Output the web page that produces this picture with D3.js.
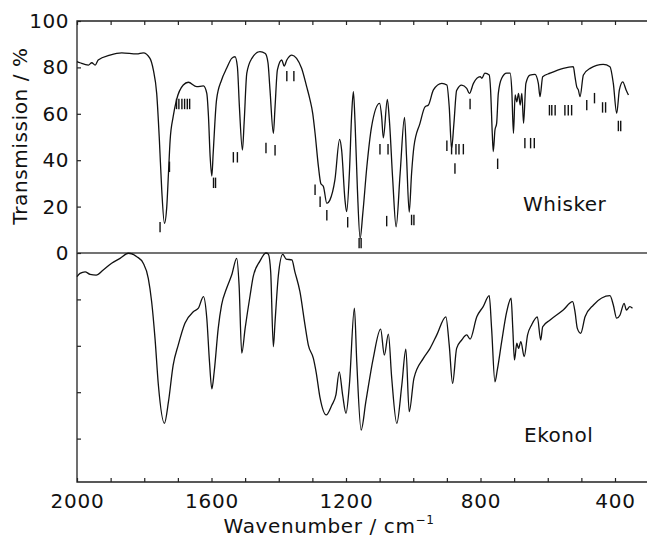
<!DOCTYPE html>
<html>
<head>
<meta charset="utf-8">
<script src="https://cdn.jsdelivr.net/npm/d3@7"></script>
<style>
  body { margin: 0; background: #fff; }
  svg text { font-family: "DejaVu Sans", sans-serif; fill: #111; }
</style>
</head>
<body>
<script>
// Whisker spectrum: [wavenumber, transmission %]
var whisker = [
  [2000, 82.5], [1991, 82], [1966, 81], [1956, 82], [1946, 81], [1937, 83.2], [1902, 85.3],
  [1867, 86.3], [1822, 85.8], [1803, 86.3], [1783, 83.9], [1773, 78.9], [1763, 68.8],
  [1755, 48.7], [1748, 27.2], [1740, 12.8], [1733, 20], [1728, 34.3], [1723, 48.7],
  [1714, 58.8], [1704, 66], [1684, 72.4], [1669, 73.6], [1644, 71.7], [1624, 72],
  [1614, 68.8], [1609, 58.8], [1604, 41.5], [1599, 33.2], [1595, 43], [1585, 66],
  [1570, 74.6], [1555, 79.6], [1540, 83.9], [1530, 84.6], [1523, 80.3], [1517, 63],
  [1508, 44.4], [1503, 56], [1495, 77.5], [1480, 83.9], [1456, 86.8], [1440, 86],
  [1432, 82], [1426, 70.3], [1416, 51.6], [1411, 63], [1404, 78.9], [1391, 83.2],
  [1384, 80.6], [1376, 83.2], [1361, 85.3], [1347, 83.9], [1332, 79.6], [1317, 71.7],
  [1307, 66], [1299, 60.2], [1292, 51.6], [1282, 37.2], [1275, 30], [1267, 28.6],
  [1257, 21.4], [1248, 22.8], [1233, 31.5], [1219, 49], [1213, 44.4], [1203, 22.8],
  [1198, 17.8], [1190, 34.3], [1183, 60.2], [1178, 69.5], [1173, 55.9], [1166, 27.2],
  [1158, 6.3], [1150, 17.1], [1138, 37.2], [1124, 54.4], [1100, 64.5], [1094, 58.8],
  [1089, 49.6], [1077, 66.2], [1071, 57.3], [1061, 31.5], [1051, 11.3], [1039, 34.3],
  [1026, 58.5], [1020, 41.5], [1012, 17.6], [1005, 34.3], [998, 45.8], [980, 55.9],
  [965, 63], [955, 63.8], [940, 70.3], [915, 73.1], [900, 72.4], [893, 63], [886, 45.1],
  [879, 56], [871, 70], [856, 72.4], [841, 71], [833, 68.8], [821, 73.1], [801, 76],
  [796, 75.3], [787, 77.5], [774, 76.7], [770, 70.3], [765, 51.6], [762, 43.7], [757, 53],
  [752, 55.9], [747, 68.8], [737, 75.3], [722, 77.5], [712, 77.5], [707, 70.3], [702, 51.6],
  [697, 68.1], [692, 65.2], [687, 68.8], [682, 63.8], [677, 68.8], [672, 55.9], [665, 73.1],
  [653, 76.7], [638, 77], [628, 73.1], [623, 67.4], [615, 76], [593, 77.5], [554, 79.6],
  [524, 80.3], [519, 76], [514, 71.7], [509, 70.3], [504, 67.4], [494, 76.7], [474, 79.6],
  [435, 81.3], [415, 80.3], [405, 73.1], [395, 60.2], [387, 70.3], [377, 73.8], [367, 70.3],
  [360, 68.1]
];

// Ekonol spectrum, same units, drawn one panel lower
var ekonol = [
  [2000, 89.8], [1991, 91.2], [1976, 91.9], [1961, 90.8], [1943, 90.5], [1922, 92.7],
  [1897, 95.6], [1872, 97.7], [1847, 99.9], [1822, 98.4], [1803, 95.6], [1788, 89.1],
  [1778, 79], [1768, 63.2], [1758, 43.1], [1740, 26.6], [1728, 35.9], [1714, 51.7],
  [1699, 60.3], [1679, 69.7], [1654, 74.7], [1639, 76.2], [1624, 81.2], [1614, 71.9],
  [1606, 53.1], [1599, 41.4], [1592, 48.8], [1580, 67.5], [1570, 77.6], [1555, 84.8],
  [1540, 90.5], [1525, 97.7], [1518, 86.2], [1510, 56.8], [1500, 67.5], [1485, 81.9],
  [1476, 89.8], [1456, 96.5], [1438, 100], [1431, 99.5], [1424, 91.9], [1416, 59.6],
  [1411, 70.4], [1401, 90.5], [1388, 99.4], [1378, 97.4], [1361, 97], [1352, 91.9],
  [1337, 83.3], [1322, 69], [1312, 60.3], [1297, 54.6], [1289, 48.8], [1277, 37.4],
  [1259, 30.2], [1242, 34.5], [1230, 38.8], [1220, 48.8], [1210, 38.8], [1200, 30.9],
  [1190, 43.1], [1175, 76.2], [1168, 53.1], [1155, 23.7], [1141, 35.9], [1119, 54.6],
  [1097, 67.2], [1086, 56], [1074, 65], [1064, 46], [1049, 26.6], [1034, 43.1],
  [1022, 58.6], [1012, 31.6], [998, 46], [970, 54.6], [950, 58.9], [930, 64.7],
  [903, 72.5], [893, 60.3], [883, 43.8], [871, 58.9], [856, 62.5], [841, 64.7],
  [831, 62.9], [811, 72.5], [792, 76.9], [774, 81.6], [767, 67.5], [757, 44.5],
  [750, 49.6], [737, 61.8], [722, 74.7], [709, 80.5], [704, 67.5], [699, 53.9],
  [692, 61.1], [687, 58.9], [680, 61.8], [670, 55.3], [660, 64.7], [648, 69],
  [631, 72.5], [621, 62.5], [615, 68.2], [593, 71.1], [554, 75.4], [526, 79],
  [519, 74.7], [512, 67.5], [502, 65.4], [489, 72.5], [464, 77.6], [415, 81.6],
  [405, 77.6], [395, 71.9], [385, 73.3], [373, 78.3], [366, 75.4], [356, 76.9],
  [348, 76.2]
];

// calculated band positions under the whisker trace: [wavenumber, top of bar in %]
var bands = [
  [1753, 13.4], [1725, 39.4], [1704, 66.5], [1697, 66.5], [1688, 66.5], [1680, 66.5],
  [1672, 66.5], [1665, 66.5], [1594, 32.5], [1588, 32.5], [1535, 43.5], [1523, 43.5],
  [1438, 47.5], [1411, 46.5], [1376, 78.5], [1355, 78.5], [1292, 29.5], [1277, 24.3],
  [1257, 18.5], [1195, 15.5], [1161, 6.5], [1155, 6.5], [1099, 47], [1075, 47],
  [1079, 16], [1005, 16.5], [998, 16.5], [900, 48.5], [886, 47], [873, 47], [864, 47],
  [851, 47], [876, 38.7], [831, 66.5], [749, 40.7], [668, 49.6], [651, 49.6], [640, 49.6],
  [595, 63.8], [588, 63.8], [578, 63.8], [549, 63.8], [539, 63.8], [529, 63.8],
  [484, 66], [461, 69], [437, 65], [428, 65], [390, 57], [383, 57]
];

var xTickLabels = [2000, 1600, 1200, 800, 400];
var yTickLabels = [0, 20, 40, 60, 80, 100];
var lowerTicks = [-20, -40, -60, -80];
var ekonolOffset = 100;

var width = 647, height = 540;

var xScale = d3.scaleLinear().domain([2000, 400]).range([77, 615]);
var yScale = d3.scaleLinear().domain([100, 0]).range([21, 253]);

var plotLeft = xScale(2000), plotRight = xScale(300);
var plotTop = yScale(100), plotMid = yScale(0), plotBottom = yScale(-98.7);

var svg = d3.select("body").append("svg")
    .attr("width", width)
    .attr("height", height);

// frame (open on the right, cut by the page edge)
var frame = svg.append("g")
    .attr("stroke", "#222")
    .attr("stroke-width", 1.3)
    .attr("fill", "none");
frame.append("path")
    .attr("d", "M" + plotRight + "," + plotTop + "H" + plotLeft + "V" + plotBottom + "H" + plotRight);
frame.append("line")
    .attr("x1", plotLeft).attr("x2", plotRight)
    .attr("y1", plotMid).attr("y2", plotMid)
    .attr("stroke", "#444");

// x ticks every 100 cm-1
var xTicks = d3.range(2000, 299, -100);

var gx = svg.append("g")
    .attr("transform", "translate(0," + plotBottom + ")")
    .call(d3.axisBottom(xScale)
        .tickValues(xTicks)
        .tickSize(-4)
        .tickPadding(12)
        .tickFormat(function(d) { return xTickLabels.indexOf(d) >= 0 ? d : ""; }));
gx.select(".domain").remove();
gx.selectAll("text")
    .attr("font-size", 20)
    .attr("letter-spacing", 0.8)
    .attr("font-family", "DejaVu Sans");

var gxTop = svg.append("g")
    .attr("transform", "translate(0," + plotTop + ")")
    .call(d3.axisTop(xScale).tickValues(xTicks).tickSize(-4).tickFormat(""));
gxTop.select(".domain").remove();

// y axis
var gy = svg.append("g")
    .attr("transform", "translate(" + plotLeft + ",0)")
    .call(d3.axisLeft(yScale).tickValues(yTickLabels).tickSize(-4).tickPadding(8));
gy.select(".domain").remove();
gy.selectAll("text")
    .attr("font-size", 20)
    .attr("letter-spacing", 0.5)
    .attr("font-family", "DejaVu Sans");

var gy2 = svg.append("g")
    .attr("transform", "translate(" + plotLeft + ",0)")
    .call(d3.axisLeft(yScale).tickValues(lowerTicks).tickSize(-4).tickFormat(""));
gy2.select(".domain").remove();

svg.selectAll(".tick line").attr("stroke", "#222").attr("stroke-width", 1.2);

// traces
var line = d3.line()
    .x(function(d) { return xScale(d[0]); })
    .y(function(d) { return yScale(d[1]); })
    .curve(d3.curveMonotoneX);

svg.append("path")
    .datum(whisker)
    .attr("d", line)
    .attr("fill", "none")
    .attr("stroke", "#111")
    .attr("stroke-width", 1.3);

svg.append("path")
    .datum(ekonol.map(function(d) { return [d[0], d[1] - ekonolOffset]; }))
    .attr("d", line)
    .attr("fill", "none")
    .attr("stroke", "#111")
    .attr("stroke-width", 1.3);

// band markers
svg.append("g").selectAll("line")
    .data(bands)
    .enter().append("line")
    .attr("x1", function(d) { return xScale(d[0]); })
    .attr("x2", function(d) { return xScale(d[0]); })
    .attr("y1", function(d) { return yScale(d[1]); })
    .attr("y2", function(d) { return yScale(d[1] - 4.5); })
    .attr("stroke", "#111")
    .attr("stroke-width", 1.4);

// labels
svg.append("text")
    .attr("x", 523).attr("y", 211)
    .attr("font-size", 20)
    .attr("letter-spacing", 0.5)
    .text("Whisker");

svg.append("text")
    .attr("x", 524).attr("y", 442)
    .attr("font-size", 20)
    .attr("letter-spacing", 0.5)
    .text("Ekonol");

svg.append("text")
    .attr("transform", "translate(27,136) rotate(-90)")
    .attr("text-anchor", "middle")
    .attr("font-size", 20)
    .attr("letter-spacing", 0.6)
    .text("Transmission / %");

var xt = svg.append("text")
    .attr("x", 329).attr("y", 533)
    .attr("text-anchor", "middle")
    .attr("font-size", 20)
    .attr("letter-spacing", 0.6);
xt.append("tspan").text("Wavenumber / cm");
xt.append("tspan").attr("font-size", 12).attr("dy", -9).text("\u22121");
</script>
</body>
</html>
